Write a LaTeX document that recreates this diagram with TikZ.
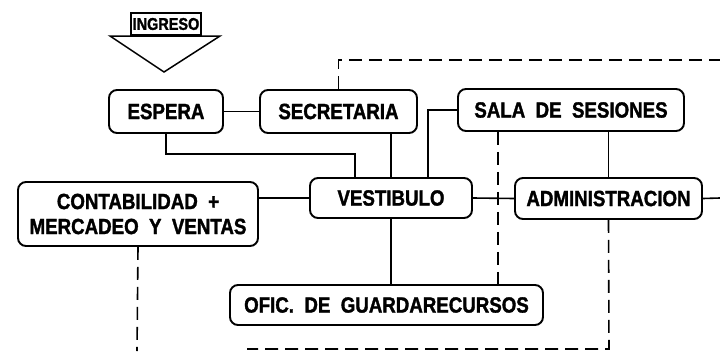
\documentclass[tikz,border=0pt]{standalone}
\usepackage{fontspec}
\newfontfamily\cadfont[FakeStretch=0.85,FakeBold=1.5]{Liberation Sans Bold}
\usetikzlibrary{positioning,calc}

\begin{document}
\begin{tikzpicture}[
  x=1pt,y=-1pt,
  line cap=butt,line join=miter,
  font=\cadfont\fontsize{22}{25}\selectfont,
  room/.style={draw,line width=1.9pt,rounded corners=8pt,align=center,
               inner sep=0pt,fill=white},
  link/.style={line width=1.6pt},
  dlink/.style={line width=1.6pt,dash pattern=on 13pt off 7pt}
]
\useasboundingbox (0,0) rectangle (720,351);

% Entrance
\node[draw,line width=1.3pt,minimum width=70pt,minimum height=22pt,inner sep=0pt,
      font=\cadfont\fontsize{17}{18}\selectfont] (ingreso) at (166,24) {INGRESO};
\draw[line width=1.5pt] (110,36) -- (220,36) -- (164,72) -- cycle;

% Rooms
\node[room,minimum width=114pt,minimum height=43pt] (espera) at (166,111.5) {ESPERA};
\node[room,minimum width=157pt,minimum height=43pt] (secretaria) at (338.5,111.5) {SECRETARIA};
\node[room,minimum width=226pt,minimum height=42pt] (sala) at (571,110) {SALA\ \ DE\ \ SESIONES};
\node[room,minimum width=162pt,minimum height=40pt] (vestibulo) at (391,198) {VESTIBULO};
\node[room,minimum width=187pt,minimum height=41pt] (admin) at (608.5,198.5) {ADMINISTRACION};
\node[room,minimum width=240pt,minimum height=64pt] (contab) at (138,214)
  {CONTABILIDAD\ \ +\\MERCADEO\ \ Y\ \ VENTAS};
\node[room,minimum width=313pt,minimum height=40pt] (ofic) at (386.5,305)
  {OFIC.\ \ DE\ \ GUARDARECURSOS};

% Free ends
\coordinate (topend) at (720,60);
\coordinate (rightend) at (720,198);
\coordinate (leftdown) at (137,351);
\coordinate (botturn) at (609,349);
\coordinate (botend) at (247,349);

% Solid links
\draw[link] (espera.east) -- (secretaria.west);
\draw[link] (espera.south) -- ++(0,20) -| ([xshift=-36pt]vestibulo.north);
\draw[link] (secretaria.south -| vestibulo.north) -- (vestibulo.north);
\draw[link] (sala.west) -| ([xshift=37pt]vestibulo.north);
\draw[link] (sala.south -| admin.north) -- (admin.north);
\draw[link] (vestibulo.west -| contab.east) -- (vestibulo.west);
\draw[link] (vestibulo.east) -- (admin.west);
\draw[link] (admin.east) -- (rightend);
\draw[link] (vestibulo.south) -- (vestibulo.south |- ofic.north);

% Dashed links
\draw[dlink] (secretaria.north) |- (topend);
\draw[dlink] ([xshift=-73pt]sala.south) -- ([xshift=-73pt]sala.south |- ofic.north);
\draw[dlink] (contab.south) -- (leftdown);
\draw[dlink] (admin.south) -- (botturn) -- (botend);
\end{tikzpicture}
\end{document}
